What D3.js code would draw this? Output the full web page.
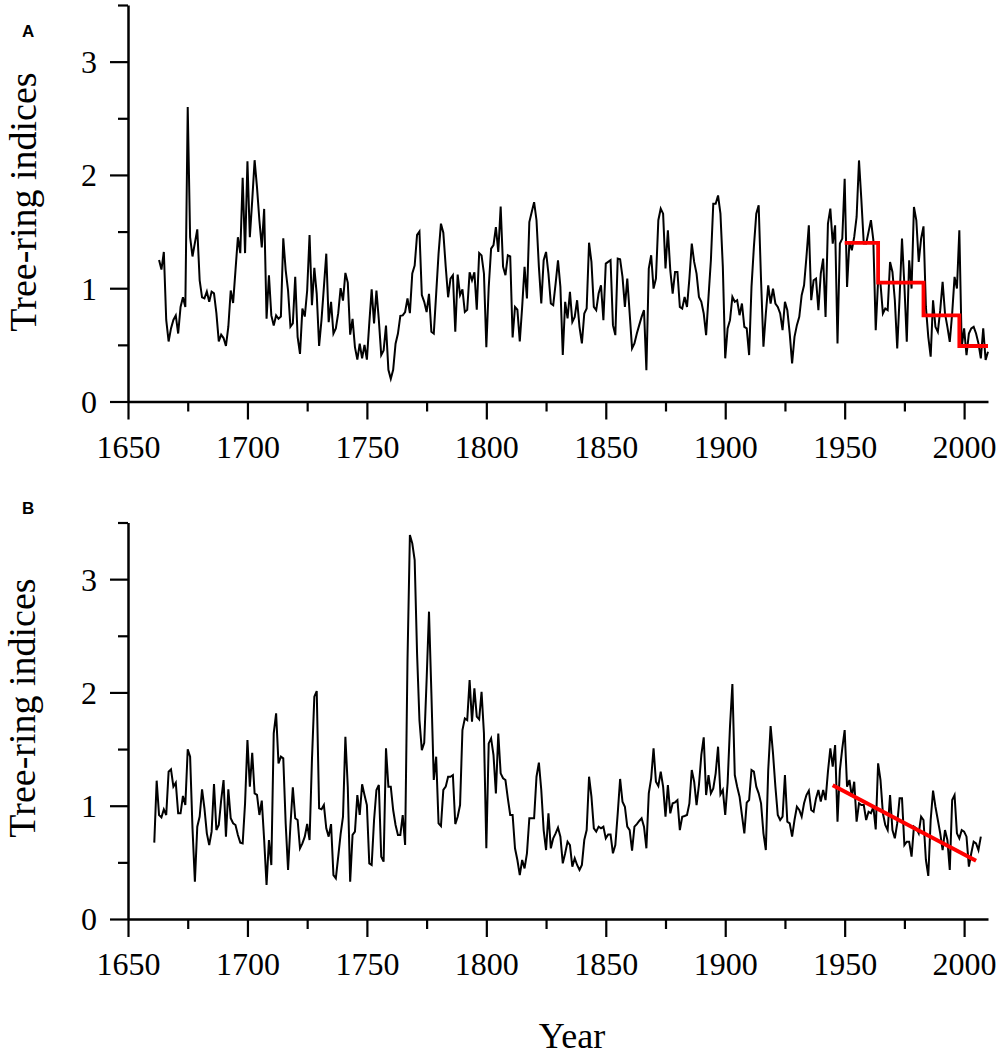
<!DOCTYPE html>
<html>
<head>
<meta charset="utf-8">
<script src="https://cdn.jsdelivr.net/npm/d3@7/dist/d3.min.js"></script>
<style>
  html, body { margin: 0; padding: 0; background: #fff; }
  svg { display: block; }
  .serif { font-family: "Liberation Serif", "Times New Roman", serif; }
</style>
</head>
<body>
<svg id="chart" width="1000" height="1055"></svg>
<script>
// ---------------- DATA ----------------
const startYearA = 1663;
const valuesA = [
  1.25,1.165,1.32,0.72,0.53,0.645,0.72,0.76,0.60,0.835,0.92,0.835,2.60,1.45,1.28,1.40,1.52,1.07,0.92,0.91,
  0.97,0.88,0.97,0.955,0.78,0.53,0.59,0.56,0.49,0.66,0.98,0.87,1.16,1.45,1.31,1.975,1.31,2.12,1.45,1.775,
  2.13,1.89,1.60,1.36,1.70,0.73,1.115,0.76,0.67,0.76,0.73,0.75,1.44,1.16,0.98,0.66,0.69,1.10,0.57,0.42,
  0.82,0.75,0.98,1.47,0.85,1.18,0.95,0.49,0.72,1.01,1.305,0.70,0.88,0.60,0.645,0.78,1.00,0.89,1.135,1.05,
  0.59,0.73,0.48,0.37,0.51,0.38,0.50,0.37,0.69,0.99,0.69,0.98,0.72,0.41,0.45,0.67,0.28,0.20,0.28,0.51,
  0.60,0.756,0.76,0.79,0.91,0.78,1.13,1.20,1.47,1.50,0.94,0.88,0.79,0.95,0.615,0.60,0.95,1.305,1.57,1.49,
  1.19,0.92,1.085,1.115,0.615,1.12,0.94,0.99,0.79,0.81,1.14,1.07,1.14,0.81,1.31,1.29,1.13,0.48,1.01,1.35,
  1.38,1.54,1.32,1.72,1.19,1.115,1.29,1.28,0.565,0.835,0.81,0.53,0.835,1.188,0.909,1.584,1.673,1.76,1.60,1.188,
  0.865,1.247,1.32,1.129,0.865,0.85,1.041,1.247,1.012,0.41,0.88,0.733,0.968,0.703,0.747,0.894,0.659,0.513,0.777,0.821,
  1.402,1.232,0.835,0.806,0.953,1.026,0.718,1.217,1.232,1.247,0.674,0.586,1.261,1.255,1.10,0.835,1.085,0.777,0.469,0.513,
  0.60,0.674,0.747,0.806,0.277,1.174,1.291,0.997,1.085,1.60,1.702,1.658,1.174,1.511,1.159,0.953,1.144,1.144,0.835,0.821,
  0.923,0.835,1.085,1.394,1.232,1.129,0.923,0.88,0.777,0.586,0.923,1.247,1.746,1.746,1.819,1.658,1.188,0.381,0.645,0.718,
  0.923,0.88,0.894,0.762,0.865,0.659,0.645,0.41,1.012,1.365,1.658,1.731,1.07,0.483,0.777,1.026,0.865,0.997,0.865,0.835,
  0.777,0.63,0.88,0.806,0.60,0.337,0.571,0.674,0.747,0.938,1.026,1.277,1.555,0.894,1.07,1.085,0.806,1.129,1.261,0.747,
  1.57,1.702,1.394,1.555,0.513,1.394,1.438,1.966,1.012,1.409,1.335,1.453,1.629,2.128,1.775,1.394,1.394,1.497,1.60,1.424,
  0.63,1.07,1.041,0.777,0.821,0.806,1.232,1.144,0.894,0.469,0.923,1.438,1.026,0.527,1.247,0.997,1.717,1.60,1.232,1.438,
  1.546,0.835,0.571,0.395,0.894,0.659,0.615,0.806,1.056,0.777,0.659,0.527,0.777,1.10,0.997,1.511,0.483,0.645,0.41,0.60,
  0.645,0.659,0.60,0.513,0.381,0.645,0.366,0.439
];

const startYearB = 1661;
const valuesB = [
  0.674,1.221,0.918,0.897,0.968,0.918,1.300,1.321,1.168,1.203,0.933,0.933,1.086,1.006,1.497,1.433,0.80,0.329,0.815,0.904,
  1.145,0.977,0.756,0.653,0.771,1.192,0.786,0.830,1.050,1.227,0.727,1.145,0.889,0.845,0.830,0.742,0.674,0.668,1.021,1.580,
  1.168,1.468,1.109,1.095,0.918,1.045,0.697,0.300,0.697,0.476,1.639,1.815,1.374,1.433,1.418,0.845,0.433,0.830,1.162,0.889,
  0.874,0.624,0.668,0.727,0.839,0.697,1.403,1.962,2.012,0.977,0.968,1.006,0.80,0.727,0.838,0.388,0.359,0.55,0.75,0.903,
  1.609,1.168,0.330,0.742,0.771,1.094,0.918,1.189,1.094,1.006,0.491,0.477,0.874,1.139,1.183,0.550,0.506,1.506,1.168,1.168,
  0.962,0.830,0.742,0.742,0.918,0.653,2.286,3.389,3.316,3.169,2.345,1.756,1.491,1.556,2.109,2.713,1.992,1.227,1.433,0.844,
  0.821,1.139,1.168,1.256,1.256,1.271,0.838,0.903,1.006,1.668,1.771,1.756,2.109,1.741,2.036,1.786,1.762,2.006,1.638,0.624,
  1.550,1.594,1.447,1.109,1.638,1.286,1.242,1.227,1.065,0.918,0.918,0.624,0.521,0.388,0.521,0.447,0.580,0.889,0.889,0.889,
  1.256,1.380,1.139,0.785,0.609,0.933,0.624,0.712,0.756,0.806,0.727,0.491,0.580,0.683,0.653,0.462,0.536,0.477,0.433,0.477,
  0.697,0.785,1.256,1.080,0.800,0.771,0.815,0.800,0.815,0.712,0.747,0.747,0.580,0.653,0.933,1.236,1.036,0.991,0.815,0.785,
  0.603,0.815,0.838,0.865,0.889,0.815,0.624,1.109,1.242,1.507,1.212,1.174,1.300,1.168,0.903,1.183,0.933,1.021,1.030,1.050,
  0.785,0.903,0.909,0.918,1.021,1.315,1.212,1.006,1.183,1.448,1.604,1.094,1.271,1.109,1.153,1.286,1.521,1.10,1.139,0.918,
  1.20,1.70,2.074,1.271,1.168,1.080,0.918,0.756,1.027,1.050,1.315,1.301,1.168,1.109,1.021,0.756,0.609,1.315,1.703,1.463,
  1.168,0.918,0.874,0.903,1.271,0.859,0.844,0.727,0.874,0.991,0.962,0.903,1.021,1.094,1.133,0.962,0.947,1.065,1.139,1.036,
  1.139,1.050,1.301,1.507,1.345,1.536,0.859,1.315,1.507,1.668,1.168,1.227,1.080,1.212,0.859,1.021,1.006,1.006,0.874,0.947,
  0.933,0.991,0.791,1.374,1.227,0.933,0.830,0.785,1.094,0.785,0.712,0.844,1.065,1.065,0.653,0.683,0.683,0.550,0.815,0.800,
  0.756,0.903,0.874,0.521,0.380,0.874,1.133,0.991,0.874,0.756,0.609,0.785,0.698,0.433,1.050,1.094,0.756,0.712,0.785,0.771,
  0.727,0.462,0.580,0.683,0.668,0.609,0.727
];

// red step means (panel A)
const stepYearsA = [1950, 1964, 1983, 1998, 2010];
const stepMeansA = [1.40, 1.05, 0.76, 0.49, 0.49];

// red linear trend (panel B)
const trendYearsB = [1945, 2005];
const trendValuesB = [1.18, 0.515];

const xMajorTicks = [1650, 1700, 1750, 1800, 1850, 1900, 1950, 2000];
const xMinorTicks = [1675, 1725, 1775, 1825, 1875, 1925, 1975];
const yMajorTicks = [0, 1, 2, 3];
const yMinorTicks = [0.5, 1.5, 2.5, 3.5];

const panelLabels = ["A", "B"];
const yTitle = "Tree-ring indices";
const xTitle = "Year";

// ---------------- DRAW ----------------
const svg = d3.select("#chart");
const serif = "Liberation Serif, Times New Roman, serif";

const x = d3.scaleLinear().domain([1650, 2010]).range([128, 988]);

const panels = [
  { label: panelLabels[0], start: startYearA, vals: valuesA, top: 5, bottom: 401.5,
    titleX: 36, titleY: 202, labelY: 37 },
  { label: panelLabels[1], start: startYearB, vals: valuesB, top: 522.5, bottom: 919,
    titleX: 35, titleY: 708, labelY: 514 }
];

panels.forEach((p, pi) => {
  const y = d3.scaleLinear().domain([0, 3.5]).range([p.bottom, p.top]);
  const g = svg.append("g");

  // x axis major
  const gx = g.append("g").attr("transform", `translate(0,${p.bottom})`)
    .call(d3.axisBottom(x).tickValues(xMajorTicks).tickSize(18).tickSizeOuter(0).tickFormat(d3.format("d")))
    .attr("font-family", serif).attr("font-size", 32);
  gx.selectAll("text").attr("y", 56).attr("dy", null)
    .attr("class", "serif").attr("font-family", serif).attr("font-size", 32).attr("fill", "#000");
  g.append("g").attr("transform", `translate(0,${p.bottom})`)
    .call(d3.axisBottom(x).tickValues(xMinorTicks).tickSize(10).tickFormat(""))
    .select(".domain").remove();

  // y axis major
  const gy = g.append("g").attr("transform", `translate(${x(1650)},0)`)
    .call(d3.axisLeft(y).tickValues(yMajorTicks).tickSize(18).tickSizeOuter(0).tickFormat(d3.format("d")))
    .attr("font-family", serif).attr("font-size", 32);
  gy.selectAll("text").attr("x", -31).attr("dy", "0.34em")
    .attr("class", "serif").attr("font-family", serif).attr("font-size", 32).attr("fill", "#000");
  g.append("g").attr("transform", `translate(${x(1650)},0)`)
    .call(d3.axisLeft(y).tickValues(yMinorTicks).tickSize(10).tickFormat(""))
    .select(".domain").remove();

  g.selectAll(".domain").attr("stroke", "#000").attr("stroke-width", 2.5);
  g.selectAll(".tick line").attr("stroke", "#000").attr("stroke-width", 2.2);

  // data line
  const data = p.vals.map((v, i) => ({ yr: p.start + i, v }));
  const line = d3.line().x(d => x(d.yr)).y(d => y(d.v));
  g.append("path").datum(data).attr("d", line)
    .attr("fill", "none").attr("stroke", "#000").attr("stroke-width", 2);

  // red overlay
  if (pi === 0) {
    const steps = stepYearsA.map((yr, i) => ({ yr, v: stepMeansA[i] }));
    g.append("path").datum(steps)
      .attr("d", d3.line().x(d => x(d.yr)).y(d => y(d.v)).curve(d3.curveStepAfter))
      .attr("fill", "none").attr("stroke", "#ff0000").attr("stroke-width", 3.8);
  } else {
    const tr = trendYearsB.map((yr, i) => ({ yr, v: trendValuesB[i] }));
    g.append("path").datum(tr)
      .attr("d", d3.line().x(d => x(d.yr)).y(d => y(d.v)))
      .attr("fill", "none").attr("stroke", "#ff0000").attr("stroke-width", 4);
  }

  // y title
  g.append("text")
    .attr("transform", `translate(${p.titleX},${p.titleY}) rotate(-90)`)
    .attr("text-anchor", "middle")
    .attr("class", "serif").attr("font-size", 38)
    .text(yTitle);

  // panel label
  g.append("text").attr("x", 22).attr("y", p.labelY)
    .attr("font-family", "Liberation Sans, Arial, sans-serif")
    .attr("font-size", 17).attr("font-weight", "bold")
    .text(p.label);
});

svg.append("text").attr("x", 572).attr("y", 1048)
  .attr("text-anchor", "middle")
  .attr("class", "serif").attr("font-size", 36)
  .text(xTitle);
</script>
</body>
</html>
